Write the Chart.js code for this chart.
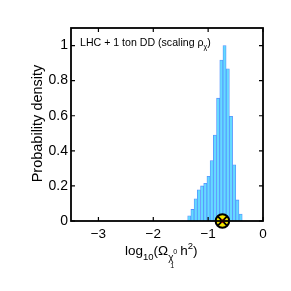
<!DOCTYPE html>
<html>
<head>
<meta charset="utf-8">
<script src="https://cdn.jsdelivr.net/npm/chart.js@4"></script>
<style>
  html, body { margin: 0; padding: 0; background: #fff; }
  #wrap { width: 291px; height: 291px; }
</style>
</head>
<body>
<div id="wrap"><canvas id="chart" width="291" height="291"></canvas></div>
<script>
// histogram bins (centres in log10 units) and heights
const binCenters = [-1.344, -1.286, -1.227, -1.169, -1.110, -1.052, -0.993, -0.935, -0.876,
                    -0.818, -0.759, -0.701, -0.642, -0.584, -0.525, -0.467, -0.408];
const binHeights = [0.03, 0.066, 0.127, 0.178, 0.20, 0.215, 0.255, 0.344, 0.49,
                    0.70, 0.917, 1.0, 0.868, 0.597, 0.32, 0.12, 0.04];

// benchmark point marker
const markerX = [-0.74];
const markerY = [0];

const xTicks = [-3, -2, -1, 0];
const xTickLabels = ['\u22123', '\u22122', '\u22121', '0'];
const yTicks = [0, 0.2, 0.4, 0.6, 0.8, 1];
const yTickLabels = ['0', '0.2', '0.4', '0.6', '0.8', '1'];

const FONT = 'Arial, "Liberation Sans", sans-serif';

// box, inward ticks, titles and the annotation
const decorations = {
    id: 'decorations',
    afterDatasetsDraw(chart) {
        const ctx = chart.ctx;
        const a = chart.chartArea;
        const xs = chart.scales.x;
        const ys = chart.scales.y;
        ctx.save();
        ctx.strokeStyle = '#000';
        ctx.lineWidth = 1.2;
        const tl = 4;
        ctx.beginPath();
        xTicks.forEach(v => {
            const px = xs.getPixelForValue(v);
            ctx.moveTo(px, a.bottom); ctx.lineTo(px, a.bottom - tl);
            ctx.moveTo(px, a.top); ctx.lineTo(px, a.top + tl);
        });
        yTicks.forEach(v => {
            const py = ys.getPixelForValue(v);
            ctx.moveTo(a.left, py); ctx.lineTo(a.left + tl, py);
            ctx.moveTo(a.right, py); ctx.lineTo(a.right - tl, py);
        });
        ctx.stroke();
        ctx.lineWidth = 1.8;
        ctx.strokeRect(a.left, a.top, a.right - a.left, a.bottom - a.top);
        ctx.restore();
    },
    afterDraw(chart) {
        const ctx = chart.ctx;
        ctx.save();
        ctx.fillStyle = '#000';
        ctx.textBaseline = 'alphabetic';

        // y title
        ctx.save();
        ctx.translate(42, 123.5);
        ctx.rotate(-Math.PI / 2);
        ctx.textAlign = 'center';
        ctx.font = '14.5px ' + FONT;
        ctx.fillText('Probability density', 0, 0);
        ctx.restore();

        // x title: log10(Ω χ~0_1 h^2)
        ctx.textAlign = 'left';
        let x = 125;
        const base = 255;
        const put = (t, size, dy) => {
            ctx.font = size + 'px ' + FONT;
            ctx.fillText(t, x, base + dy);
            x += ctx.measureText(t).width;
        };
        put('log', 13.5, 0);
        put('10', 9.5, 5);
        put('(\u03A9', 13.5, 0);
        const chiX = x + 1;
        put('\u03C7', 10, 6);
        ctx.font = '7px ' + FONT;
        ctx.fillText('0', chiX + 4, base - 1);
        ctx.fillText('1', chiX + 1, base + 13);
        x += 3;
        put(' h', 13.5, 0);
        put('2', 9.5, -6);
        put(')', 13.5, 0);

        // annotation
        x = 80;
        const ab = 45.5;
        const main = 'LHC + 1 ton DD (scaling \u03C1';
        ctx.font = '10.6px ' + FONT;
        ctx.fillText(main, x, ab);
        x += ctx.measureText(main).width;
        ctx.font = '7px ' + FONT;
        ctx.fillText('\u03C7', x, ab + 3);
        x += ctx.measureText('\u03C7').width;
        ctx.font = '10.6px ' + FONT;
        ctx.fillText(')', x, ab);
        ctx.restore();
    }
};

new Chart(document.getElementById('chart'), {
    type: 'bar',
    data: {
        datasets: [{
            type: 'scatter',
            data: markerX.map((v, i) => ({ x: v, y: markerY[i] })),
            pointStyle: 'circle',
            pointRadius: 1.8,
            backgroundColor: '#e00000',
            borderColor: '#e00000',
            borderWidth: 0,
            clip: false,
            order: 0
        }, {
            type: 'scatter',
            data: markerX.map((v, i) => ({ x: v, y: markerY[i] })),
            pointStyle: 'crossRot',
            pointRadius: 6.5,
            borderColor: '#000',
            borderWidth: 1.8,
            clip: false,
            order: 1
        }, {
            type: 'scatter',
            data: markerX.map((v, i) => ({ x: v, y: markerY[i] })),
            pointStyle: 'circle',
            pointRadius: 6.8,
            backgroundColor: '#f5e600',
            borderColor: '#000',
            borderWidth: 2,
            clip: false,
            order: 2
        }, {
            data: binCenters.map((v, i) => ({ x: v, y: binHeights[i] })),
            backgroundColor: 'rgb(100, 218, 255)',
            borderColor: 'rgb(85, 145, 255)',
            borderWidth: 0.8,
            borderSkipped: 'bottom',
            categoryPercentage: 1,
            barPercentage: 1,
            order: 3
        }]
    },
    options: {
        responsive: false,
        animation: false,
        layout: { padding: { left: 0, right: 28, top: 28, bottom: 0 } },
        plugins: {
            legend: { display: false },
            tooltip: { enabled: false }
        },
        scales: {
            x: {
                type: 'linear',
                min: -3.5,
                max: 0,
                offset: false,
                afterBuildTicks: s => { s.ticks = xTicks.map(v => ({ value: v })); },
                afterFit: s => { s.height = 70; },
                grid: { display: false, drawTicks: false },
                border: { display: false },
                ticks: {
                    padding: 5,
                    color: '#000',
                    font: { family: FONT, size: 13.5 },
                    maxRotation: 0,
                    callback: v => xTickLabels[xTicks.indexOf(v)]
                }
            },
            y: {
                type: 'linear',
                min: 0,
                max: 1.1,
                afterBuildTicks: s => { s.ticks = yTicks.map(v => ({ value: v })); },
                afterFit: s => { s.width = 71; },
                grid: { display: false, drawTicks: false },
                border: { display: false },
                ticks: {
                    padding: 3,
                    color: '#000',
                    font: { family: FONT, size: 14 },
                    callback: v => yTickLabels[yTicks.indexOf(v)]
                }
            }
        }
    },
    plugins: [decorations]
});
</script>
</body>
</html>
